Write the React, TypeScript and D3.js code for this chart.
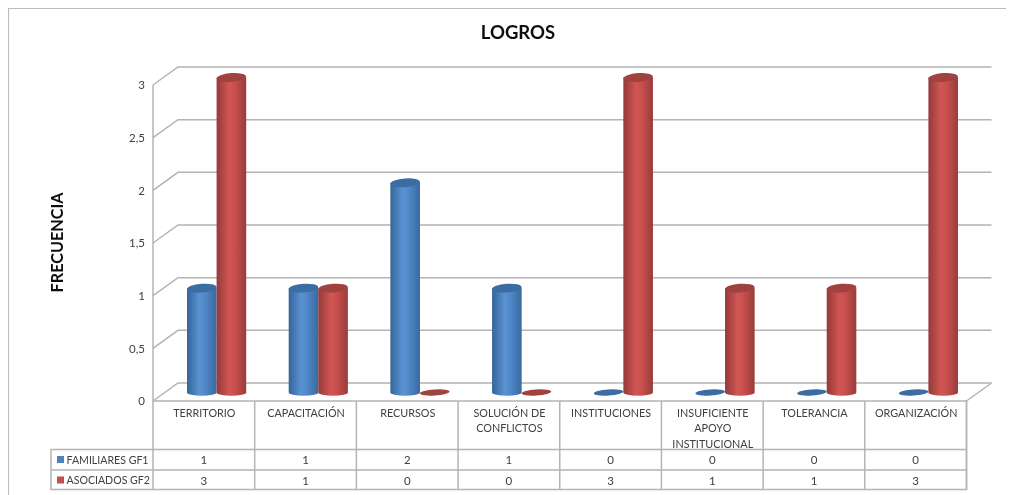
import React from "react";
import * as d3 from "d3";

const categories = [
  ["TERRITORIO"],
  ["CAPACITACIÓN"],
  ["RECURSOS"],
  ["SOLUCIÓN DE", "CONFLICTOS"],
  ["INSTITUCIONES"],
  ["INSUFICIENTE", "APOYO", "INSTITUCIONAL"],
  ["TOLERANCIA"],
  ["ORGANIZACIÓN"],
];
const familiares = [1, 1, 2, 1, 0, 0, 0, 0];
const asociados = [3, 1, 0, 0, 3, 1, 1, 3];
const ticks = [0, 0.5, 1, 1.5, 2, 2.5, 3];
const seriesNames = ["FAMILIARES GF1", "ASOCIADOS GF2"];
const seriesColors = ["#4f81bd", "#c0504d"];
const seriesIds = ["blue", "red"];
const seriesStops = [
  ["#34659a", "#5a92d3", "#5088c9", "#386a9f"],
  ["#943a38", "#d05654", "#c9504e", "#983c3a"],
];
const seriesTop = ["#3a6da2", "#a04240"];

const W = 1015, H = 495;
const FONT = "Lato, 'Open Sans', sans-serif";
const GRID = "#b4b4b4";
const TXT = "#404040";

export default function App() {
  const x = d3.scaleBand<number>().domain(d3.range(categories.length)).range([153, 966.5]);
  const y = d3.scaleLinear().domain([0, 3]).range([401, 85]);
  const dx = 25, dy = -18;
  const barW = 29.6;
  const lift = 7.5, rx = barW / 2, ry = 4.4, ryBase = 3.2;
  const barX = (i: number, s: number) => x(i)! + 34 + s * barW;
  const rows = [449.5, 470, 489.5];
  const allSeries = [familiares, asociados];
  const fmt = (t: number) => String(t).replace(".", ",");

  return (
    <svg width={W} height={H} style={{ position: "absolute", left: 0, top: 0, background: "#fff" }} fontFamily={FONT}>
      <defs>
        {seriesIds.map((id, s) => (
          <linearGradient key={id} id={id} x1="0" x2="1" y1="0" y2="0">
            {seriesStops[s].map((c, k) => (
              <stop key={k} offset={[0, 0.42, 0.62, 1][k]} stopColor={c} />
            ))}
          </linearGradient>
        ))}
        <filter id="soft" x="0" y="0" width="100%" height="100%">
          <feGaussianBlur stdDeviation="0.35" />
        </filter>
      </defs>
      <g filter="url(#soft)">
        <path d={`M8.5,495V8.5H1006`} fill="none" stroke="#bdbdbd" strokeWidth={1.2} />
        <text x={518} y={38.5} textAnchor="middle" fontSize={18.5} fontWeight={700} fill="#111">LOGROS</text>
        <text transform="translate(63,242.5) rotate(-90)" textAnchor="middle" fontSize={16.2} fontWeight={700} fill="#111">FRECUENCIA</text>

        {ticks.map((t) => (
          <g key={t}>
            <path d={`M${x.range()[0]},${y(t)}L${x.range()[0] + dx},${y(t) + dy}H${x.range()[1] + dx}`} fill="none" stroke={GRID} strokeWidth={1.5} />
            <text x={145} y={y(t) + 4.3} textAnchor="end" fontSize={11.5} fill={TXT}>{fmt(t)}</text>
          </g>
        ))}
        <path d={`M${x.range()[1]},${y(0)}L${x.range()[1] + dx},${y(0) + dy}`} fill="none" stroke={GRID} strokeWidth={1.5} />
        <line x1={153} x2={153} y1={y(3)} y2={y(0)} stroke={GRID} strokeWidth={1.5} />

        {categories.map((_, i) =>
          allSeries.map((vals, s) => {
            const v = vals[i];
            const l = barX(i, s), r = l + barW, cx = l + rx;
            const yb = y(0) - lift - 1;
            const yt = y(v) - lift;
            if (v === 0) {
              return <ellipse key={s} cx={cx} cy={yb} rx={rx} ry={3} fill={seriesTop[s]} transform={`rotate(-4 ${cx} ${yb})`} />;
            }
            return (
              <g key={s}>
                <path d={`M${l},${yt}V${yb}A${rx},${ryBase} 0 0 0 ${r},${yb}V${yt}Z`} fill={`url(#${seriesIds[s]})`} />
                <ellipse cx={cx} cy={yt} rx={rx} ry={ry} fill={seriesTop[s]} transform={`rotate(-4 ${cx} ${yt})`} />
              </g>
            );
          })
        )}

        <path
          d={`M153,401H966.5V${rows[2]}H51V${rows[0]}H966.5M51,${rows[1]}H966.5M153,401V${rows[2]}`}
          fill="none" stroke={GRID} strokeWidth={1.5}
        />
        {categories.map((lines, i) => (
          <g key={i}>
            <line x1={x(i)! + x.bandwidth()} x2={x(i)! + x.bandwidth()} y1={401} y2={rows[2]} stroke={GRID} strokeWidth={1.5} />
            {lines.map((ln, k) => (
              <text key={k} x={x(i)! + x.bandwidth() / 2 + 0.5} y={417 + k * 15.3} textAnchor="middle" fontSize={lines.length > 1 && lines[0].length > 11 ? 10.8 : 10.8} fill={TXT}>{ln}</text>
            ))}
            {allSeries.map((vals, s) => (
              <text key={s} x={x(i)! + x.bandwidth() / 2} y={rows[s] + 14.5} textAnchor="middle" fontSize={11.5} fill={TXT}>{vals[i]}</text>
            ))}
          </g>
        ))}
        {seriesNames.map((n, s) => (
          <g key={n}>
            <rect x={57} y={rows[s] + 6.5} width={7} height={7} fill={seriesColors[s]} />
            <text x={66.5} y={rows[s] + 14} fontSize={10.6} fill={TXT}>{n}</text>
          </g>
        ))}
      </g>
    </svg>
  );
}
